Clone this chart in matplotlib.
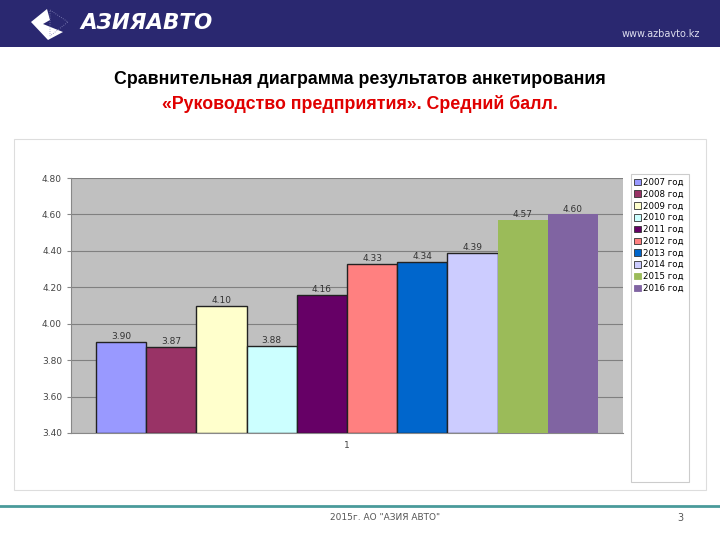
import matplotlib.pyplot as plt
from matplotlib.patches import Rectangle, Polygon

# данные
years = ['2007 год', '2008 год', '2009 год', '2010 год', '2011 год',
         '2012 год', '2013 год', '2014 год', '2015 год', '2016 год']
scores = [3.90, 3.87, 4.10, 3.88, 4.16, 4.33, 4.34, 4.39, 4.57, 4.60]
labels = ['3.90', '3.87', '4.10', '3.88', '4.16', '4.33', '4.34', '4.39', '4.57', '4.60']
colors = ['#9999FF', '#993366', '#FFFFCC', '#CCFFFF', '#660066',
          '#FF8080', '#0066CC', '#CCCCFF', '#9BBB59', '#8064A2']
edges = ['#222222'] * 8 + ['none', 'none']
yticks = [3.40, 3.60, 3.80, 4.00, 4.20, 4.40, 4.60, 4.80]

W, H = 720, 540
fig = plt.figure(figsize=(7.2, 5.4), dpi=100)
fig.patch.set_facecolor('white')

def fx(px):
    return px / W

def fy(py):
    return 1 - py / H

# шапка
fig.patches.append(Rectangle((0, fy(47)), 1, 47 / H, transform=fig.transFigure,
                             facecolor='#2A2870', edgecolor='none', zorder=0))
fig.patches.append(Polygon([(fx(31), fy(22)), (fx(47), fy(9)), (fx(50), fy(20)), (fx(43), fy(24)),
                            (fx(63), fy(32)), (fx(48), fy(40))],
                           closed=True, transform=fig.transFigure,
                           facecolor='white', edgecolor='none'))
fig.patches.append(Polygon([(fx(50), fy(10)), (fx(68), fy(22)), (fx(50), fy(36))],
                           closed=True, transform=fig.transFigure,
                           facecolor='none', edgecolor='#8888BB', lw=0.6, ls=':'))
fig.text(fx(80), fy(23), 'АЗИЯАВТО', color='white', fontsize=15.5, fontweight='bold',
         fontstyle='italic', va='center', ha='left')
fig.text(fx(700), fy(34), 'www.azbavto.kz', color='#DDDDEE', fontsize=7,
         va='center', ha='right')

# заголовок
fig.text(0.5, fy(80), 'Сравнительная диаграмма результатов анкетирования',
         ha='center', va='center', fontsize=12.8, fontweight='bold', color='black',
         family='Liberation Sans')
fig.text(0.5, fy(104), '«Руководство предприятия». Средний балл.',
         ha='center', va='center', fontsize=12.8, fontweight='bold', color='#E00000',
         family='Liberation Sans')

# рамка диаграммы
fig.patches.append(Rectangle((fx(14), fy(490)), fx(706 - 14), (490 - 139) / H,
                             transform=fig.transFigure, facecolor='white',
                             edgecolor='#DDDDDD', lw=0.8, zorder=0))

ax = fig.add_axes([fx(71), fy(433), fx(623 - 71), (433 - 178) / H])
ax.set_zorder(5)
ax.set_facecolor('#C0C0C0')
x = list(range(len(scores)))
bars = ax.bar(x, [s - 3.40 for s in scores], bottom=3.40, width=1.0,
              color=colors, edgecolor=edges, linewidth=1.0, zorder=3)
for b, lab in zip(bars, labels):
    ax.text(b.get_x() + b.get_width() / 2, b.get_y() + b.get_height() + 0.005, lab,
            ha='center', va='bottom', fontsize=6.5, color='#333333', zorder=4)
ax.set_xlim(-1, 10)
ax.set_ylim(3.40, 4.80)
ax.set_yticks(yticks)
ax.set_yticklabels(['%.2f' % v for v in yticks], fontsize=6.5, color='#444444')
ax.set_xticks([4.5])
ax.set_xticklabels(['1'], fontsize=6.5, color='#444444')
ax.tick_params(axis='y', length=3, color='#888888')
ax.tick_params(axis='x', length=0, pad=6)
ax.grid(axis='y', color='#808080', lw=0.8, zorder=1)
for side in ['top', 'right']:
    ax.spines[side].set_visible(False)
ax.spines['left'].set_color('#888888')
ax.spines['bottom'].set_color('#888888')

# легенда
fig.patches.append(Rectangle((fx(631), fy(482)), fx(689 - 631), (482 - 174) / H,
                             transform=fig.transFigure, facecolor='white',
                             edgecolor='#CCCCCC', lw=0.8))
handles = [Rectangle((0, 0), 1, 1, facecolor=c, edgecolor='#333333' if e != 'none' else c, lw=0.6)
           for c, e in zip(colors, edges)]
fig.legend(handles, years, loc='upper left', bbox_to_anchor=(fx(628), fy(172)),
           frameon=False, fontsize=6.2, handlelength=0.8, handleheight=0.8,
           handletextpad=0.2, labelspacing=0.32, borderpad=0.2)

# подвал
fig.add_artist(plt.Line2D([0, 1], [fy(506), fy(506)], transform=fig.transFigure,
                          color='#4A9A9A', lw=2))
fig.text(fx(385), fy(517), '2015г. АО "АЗИЯ АВТО"', ha='center', va='center',
         fontsize=6.5, color='#555555')
fig.text(fx(680), fy(518), '3', ha='center', va='center', fontsize=7, color='#555555')

fig.savefig('out.png', dpi=100)
